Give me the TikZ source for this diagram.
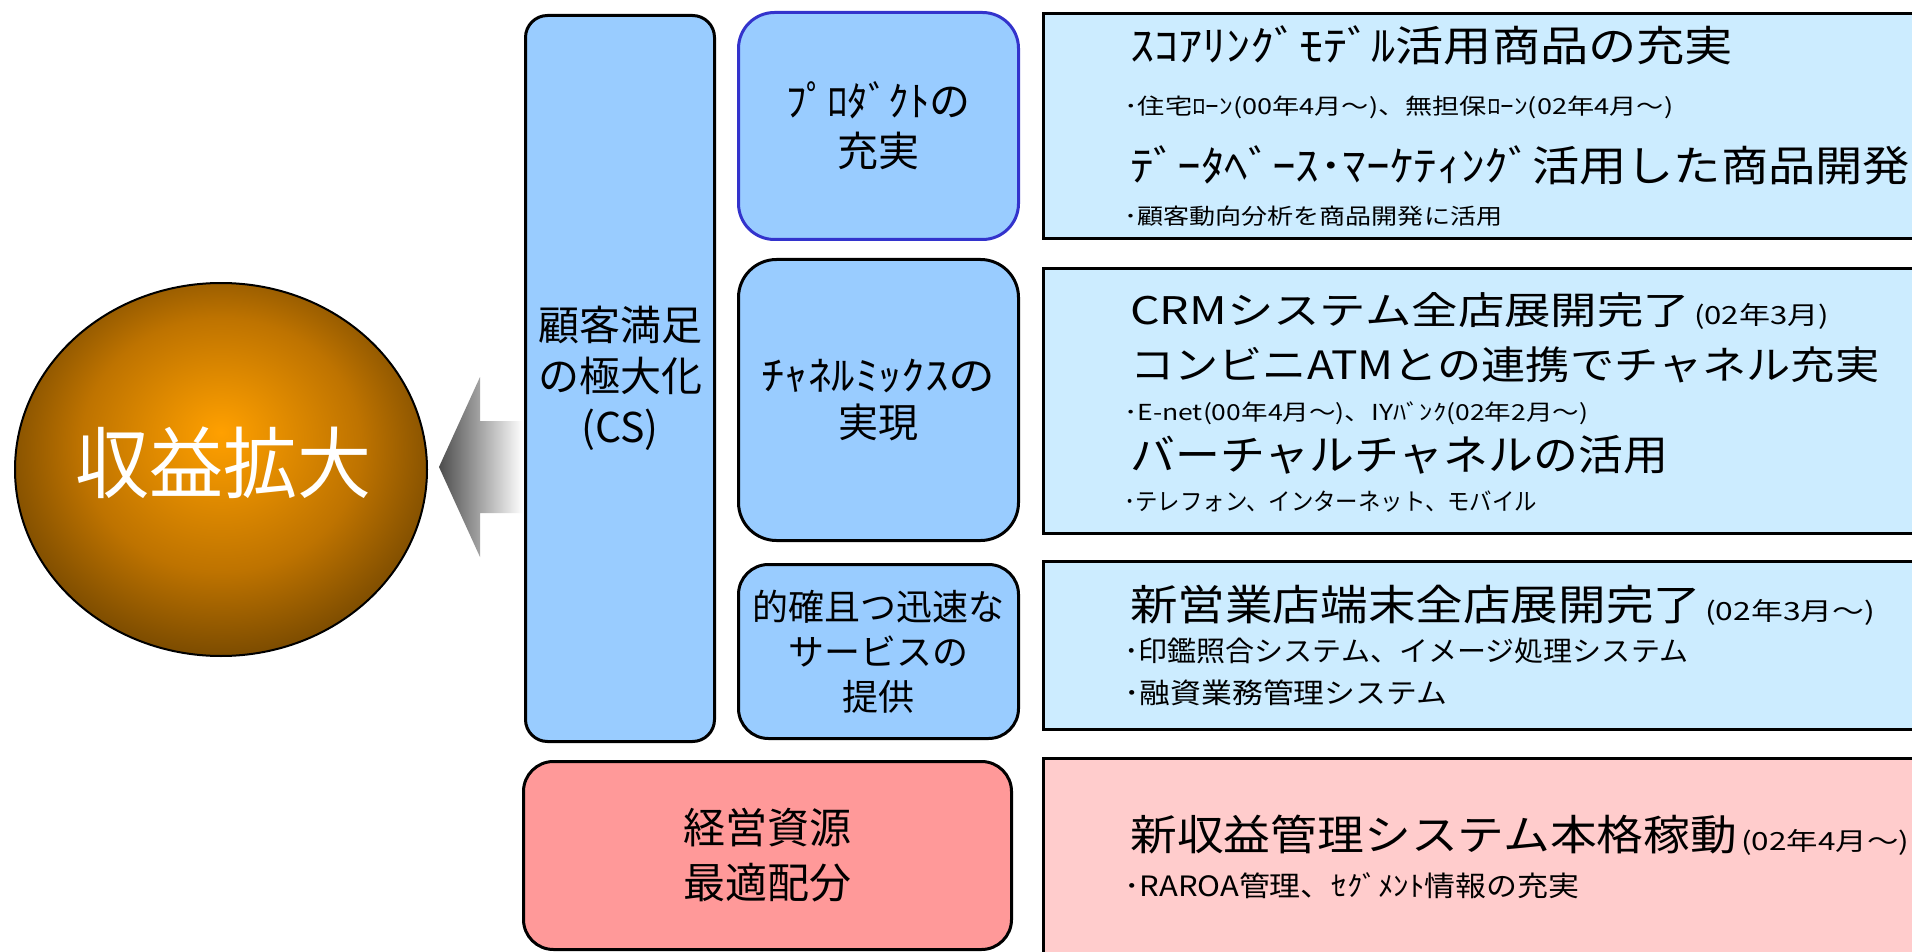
\documentclass[tikz,border=0pt]{standalone}
\usepackage{fontspec}
\setmainfont{Noto Sans CJK JP}
\usepackage{graphicx}
\usetikzlibrary{shapes.geometric}
\definecolor{rblue}{HTML}{CCECFF}
\definecolor{lblue}{HTML}{99CCFF}
\definecolor{rred}{HTML}{FF9999}
\definecolor{rpink}{HTML}{FFCCCC}
\definecolor{pblue}{HTML}{3333CC}
\definecolor{orbin}{HTML}{FFA000}
\definecolor{orbmid}{HTML}{BE7300}
\definecolor{orbout}{HTML}{4A2E00}
\definecolor{arrowdark}{HTML}{4D4D4D}
\pgfdeclareradialshading{orbshade}{\pgfpoint{0bp}{5bp}}{color(0bp)=(orbin); color(17bp)=(orbmid); color(35bp)=(orbout); color(50bp)=(orbout)}
\newcommand{\fitto}[2]{\resizebox{#1}{\height}{#2}}
\newcommand{\jfs}[1]{\fontsize{#1}{#1}\selectfont}
\newcommand{\jfsb}[2]{\fontsize{#1}{#2}\selectfont}
\begin{document}
\begin{tikzpicture}[x=1pt,y=-1pt,
  lbox/.style={draw, line width=3pt, fill=lblue, rounded corners=30pt, anchor=north west, align=center, inner sep=0pt},
  rbox/.style={draw, line width=3pt, fill=rblue, anchor=north west, inner sep=0pt},
  rt/.style={anchor=base west, inner sep=0pt}]
\path[use as bounding box] (0,0) rectangle (1912,952);
\clip (0,0) rectangle (1912,952);
\fill[white] (0,0) rectangle (1912,952);

% goal orb
\node[ellipse, draw, line width=2pt, shade, shading=orbshade, minimum width=412pt, minimum height=373pt, inner sep=0pt] (orb) at (221,469.5) {};
\node[rt, anchor=base, text=white] (goal) at (223,492) {\jfs{78}\fitto{296pt}{収益拡大}};

% block arrow
\shade[left color=arrowdark, right color=white] (439,467) -- (480,377) -- (480,421) -- (523,421) -- (523,513) -- (480,513) -- (480,557) -- cycle;

% left column boxes
\node[lbox, rounded corners=22pt, minimum width=189pt, minimum height=726pt, font=\jfsb{41}{51}] (cs) at (524,14) {顧客満足\\の極大化\\(CS)};
\node[lbox, draw=pblue, rounded corners=36pt, minimum width=280pt, minimum height=227pt, font=\jfsb{41}{50}] (prod) at (737,11) {ﾌﾟﾛﾀﾞｸﾄの\\充実};
\node[lbox, rounded corners=38pt, minimum width=280pt, minimum height=281pt, font=\jfsb{40}{47}] (chan) at (737,258) {\fitto{234pt}{ﾁｬﾈﾙﾐｯｸｽの}\\実現};
\node[lbox, minimum width=280pt, minimum height=174pt, font=\jfsb{36}{45}] (serv) at (737,563) {的確且つ迅速な\\サービスの\\提供};
\node[lbox, fill=rred, minimum width=488pt, minimum height=188pt, font=\jfsb{42}{55}] (res) at (522,760) {経営資源\\最適配分};

% right boxes
\node[rbox, minimum width=920pt, minimum height=225pt] (r1) at (1042,12) {};
\node[rbox, minimum width=920pt, minimum height=265pt] (r2) at (1042,267) {};
\node[rbox, minimum width=920pt, minimum height=168pt] (r3) at (1042,560) {};
\node[rbox, fill=rpink, minimum width=920pt, minimum height=220pt] (r4) at (1042,757) {};

% box 1 texts
\node[rt] (t1a) at (1130,62) {\jfs{42}\fitto{603pt}{ｽｺｱﾘﾝｸﾞﾓﾃﾞﾙ活用商品の充実}};
\node[rt] (t1b) at (1124,115) {\jfs{22}\fitto{549pt}{･住宅ﾛｰﾝ(00年4月～)、無担保ﾛｰﾝ(02年4月～)}};
\node[rt] (t1c) at (1130,182) {\jfs{42}\fitto{780pt}{ﾃﾞｰﾀﾍﾞｰｽ･ﾏｰｹﾃｨﾝｸﾞ活用した商品開発}};
\node[rt] (t1d) at (1124,225) {\jfs{22}\fitto{378pt}{･顧客動向分析を商品開発に活用}};

% box 2 texts
\node[rt] (t2a) at (1130,324) {\jfs{38}\fitto{560pt}{CRMシステム全店展開完了}};
\node[rt] (t2s) at (1694,324) {\jfs{25}\fitto{135pt}{(02年3月)}};
\node[rt] (t2b) at (1130,379) {\jfs{39}\fitto{749pt}{コンビニATMとの連携でチャネル充実}};
\node[rt] (t2c) at (1124,420) {\jfs{22}\fitto{464pt}{･E-net(00年4月～)、IYﾊﾞﾝｸ(02年2月～)}};
\node[rt] (t2d) at (1130,470) {\jfs{42}\fitto{538pt}{バーチャルチャネルの活用}};
\node[rt] (t2e) at (1124,510) {\jfs{24}\fitto{413pt}{･テレフォン、インターネット、モバイル}};

% box 3 texts
\node[rt] (t3a) at (1130,620) {\jfs{42}\fitto{571pt}{新営業店端末全店展開完了}};
\node[rt] (t3s) at (1705,620) {\jfs{25}\fitto{170pt}{(02年3月～)}};
\node[rt] (t3b) at (1124,661) {\jfs{28}\fitto{564pt}{･印鑑照合システム、イメージ処理システム}};
\node[rt] (t3c) at (1124,703) {\jfs{28}\fitto{323pt}{･融資業務管理システム}};

% box 4 texts
\node[rt] (t4a) at (1130,850) {\jfs{42}\fitto{607pt}{新収益管理システム本格稼動}};
\node[rt] (t4s) at (1741,850) {\jfs{25}\fitto{168pt}{(02年4月～)}};
\node[rt] (t4b) at (1124,896) {\jfs{28}\fitto{455pt}{･RAROA管理、ｾｸﾞﾒﾝﾄ情報の充実}};
\end{tikzpicture}
\end{document}
